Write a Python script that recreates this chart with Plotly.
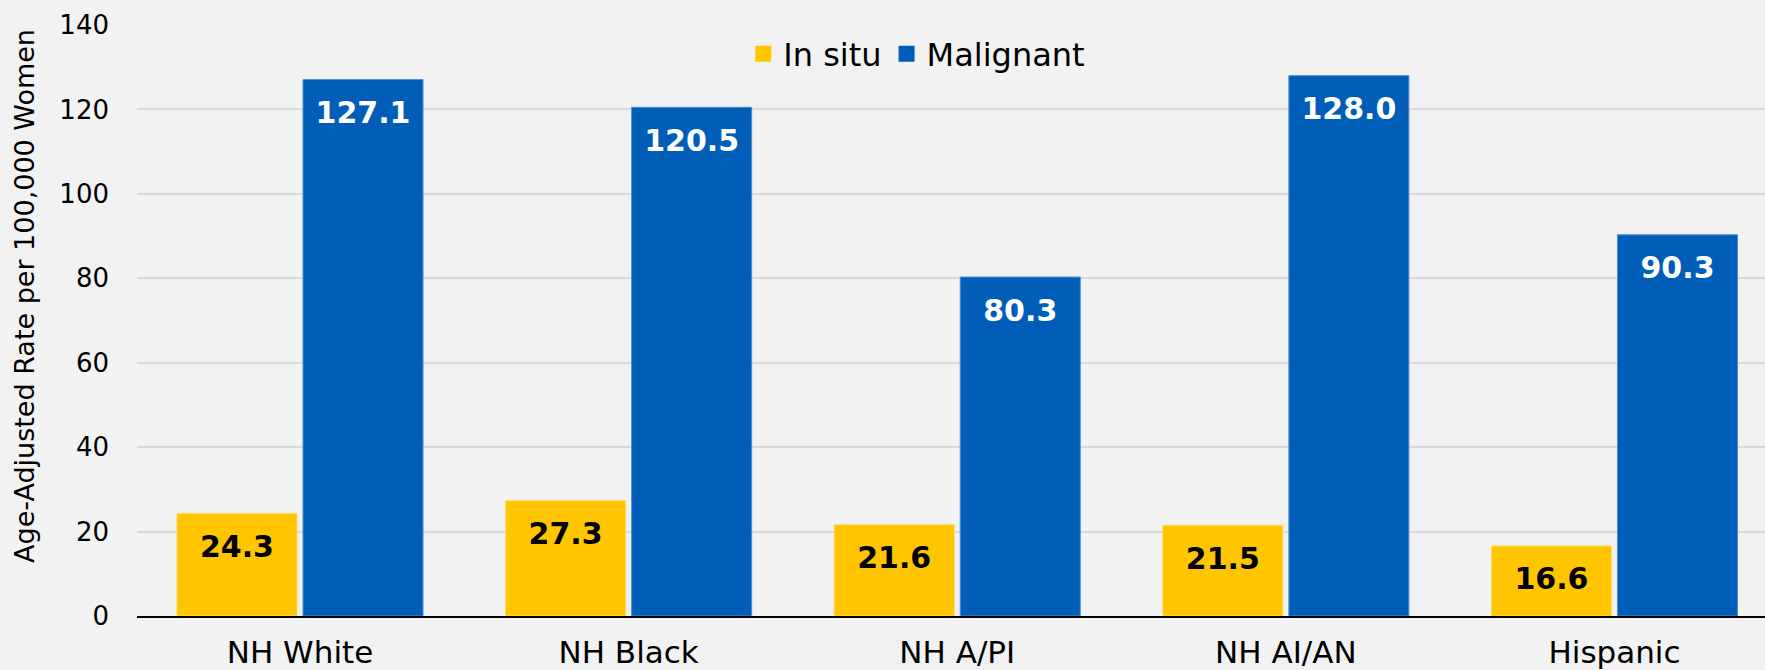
import plotly.graph_objects as go

categories = ["NH White", "NH Black", "NH A/PI", "NH AI/AN", "Hispanic"]
in_situ = [24.3, 27.3, 21.6, 21.5, 16.6]
malignant = [127.1, 120.5, 80.3, 128.0, 90.3]
series_names = ["In situ", "Malignant"]
y_ticks = [0, 20, 40, 60, 80, 100, 120, 140]

FONT = "DejaVu Sans"
YELLOW = "#FFC600"
BLUE = "#005EB8"
BARGAP = 0.233

fig = go.Figure()
fig.add_trace(go.Bar(
    name=series_names[0], x=categories, y=in_situ, offsetgroup="a", legendgroup="a",
    marker=dict(color=YELLOW, line=dict(color="#FFD95C", width=1)),
    hoverinfo="x+y", showlegend=False,
))
fig.add_trace(go.Bar(
    name=series_names[1], x=categories, y=malignant, offsetgroup="b", legendgroup="b",
    marker=dict(color=BLUE, line=dict(color="#4A8FD6", width=1)),
    hoverinfo="x+y", showlegend=False,
))
# value labels placed just below each bar top
for vals, grp, col in [(in_situ, "a", "black"), (malignant, "b", "white")]:
    fig.add_trace(go.Scatter(
        x=categories, y=vals, offsetgroup=grp, mode="markers+text",
        marker=dict(size=32, color="rgba(0,0,0,0)", line=dict(width=0)),
        text=[f"{v:.1f}" for v in vals], textposition="bottom center",
        textfont=dict(family=FONT, size=30, color=col, weight="bold"),
        showlegend=False, hoverinfo="skip", cliponaxis=False,
    ))
# legend entries with larger square swatches
for name, grp, col in [(series_names[0], "a", YELLOW), (series_names[1], "b", BLUE)]:
    fig.add_trace(go.Scatter(
        x=[None], y=[None], name=name, legendgroup=grp, mode="markers",
        marker=dict(symbol="square", size=16, color=col, line=dict(width=0)),
        showlegend=True, hoverinfo="skip",
    ))

fig.add_annotation(
    text="Age-Adjusted Rate per 100,000 Women", textangle=-90,
    xref="paper", yref="paper", x=-0.069, y=0.541,
    xanchor="center", yanchor="middle", showarrow=False,
    font=dict(family=FONT, size=27, color="black"),
)

fig.update_layout(
    width=1765, height=670,
    paper_bgcolor="#F2F2F2", plot_bgcolor="#F2F2F2",
    margin=dict(l=137, r=0, t=25, b=52),
    barmode="group", bargap=BARGAP, bargroupgap=0.0476,
    scattermode="group", scattergap=BARGAP,
    font=dict(family=FONT, size=28, color="black"),
    legend=dict(orientation="h", x=0.479, xanchor="center", y=0.951, yanchor="middle",
                font=dict(family=FONT, size=32), bgcolor="rgba(0,0,0,0)",
                itemwidth=30, traceorder="normal"),
    showlegend=True,
)
fig.update_xaxes(range=[-0.496, 4.458], showgrid=False, showline=True, linecolor="black",
                 linewidth=2, ticks="", tickfont=dict(family=FONT, size=31),
                 ticklabelstandoff=8)
fig.update_yaxes(range=[0, 140], tickvals=y_ticks, showgrid=True, gridcolor="#D9D9D9",
                 gridwidth=2, zeroline=False, showline=False, ticks="",
                 tickfont=dict(family=FONT, size=26), ticklabelstandoff=27)

fig.write_html("out.html", config={"displayModeBar": False})

with open("out.html", encoding="utf-8") as f:
    html = f.read()
html = html.replace("<body>", '<body style="margin:0;padding:0;overflow:hidden;">', 1)
with open("out.html", "w", encoding="utf-8") as f:
    f.write(html)
